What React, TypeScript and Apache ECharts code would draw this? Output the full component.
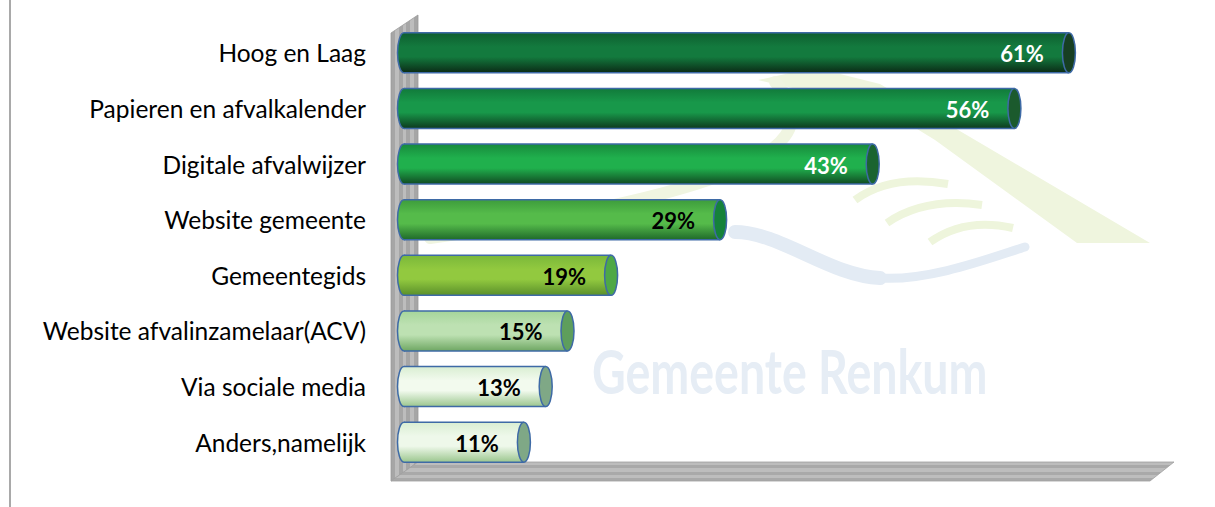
import React, { useEffect, useRef } from 'react';
import * as echarts from 'echarts';

const categories = [
  'Hoog en Laag',
  'Papieren en afvalkalender',
  'Digitale afvalwijzer',
  'Website gemeente',
  'Gemeentegids',
  'Website afvalinzamelaar(ACV)',
  'Via sociale media',
  'Anders,namelijk',
];
const values = [61, 56, 43, 29, 19, 15, 13, 11];

const bodyTop = ['#0e5e2f', '#117a3a', '#178a3c', '#3d9c3c', '#7ab83a', '#a5d59a', '#d9eed2', '#d9eed2'];
const bodyMid = ['#137a3e', '#18984a', '#20b04d', '#55bb4a', '#92c93f', '#bde1b2', '#f2faee', '#eef8ea'];
const bodyBot = ['#0b2a16', '#0d3a1e', '#114a22', '#1f6a2a', '#5a8f2a', '#6fa763', '#9bc68e', '#9bc68e'];
const capColors = ['#173f22', '#1b5a2d', '#1a6430', '#15823a', '#4ea846', '#5e9e5c', '#7fa886', '#7fa886'];
const labelColors = ['#ffffff', '#ffffff', '#ffffff', '#000000', '#000000', '#000000', '#000000', '#000000'];

const BORDER = '#3e6aa6';

function stripes(c1: string, c2: string, n: number) {
  const stops: { offset: number; color: string }[] = [];
  for (let i = 0; i < n; i++) {
    const a = i / n;
    const b = (i + 1) / n;
    const c = i % 2 === 0 ? c1 : c2;
    stops.push({ offset: a, color: c });
    stops.push({ offset: b, color: c });
  }
  return stops;
}

export default function App() {
  const ref = useRef<HTMLDivElement>(null);
  useEffect(() => {
    document.body.style.margin = '0';
    const chart = echarts.init(ref.current!, null, { renderer: 'svg' });
    const option: any = {
      animation: false,
      backgroundColor: '#ffffff',
      grid: { left: 404, right: 48, top: 25, bottom: 37 },
      xAxis: {
        type: 'value',
        min: 0,
        max: 70,
        show: false,
      },
      yAxis: {
        type: 'category',
        data: categories,
        inverse: true,
        axisLine: { show: false },
        axisTick: { show: false },
        axisLabel: {
          margin: 38,
          color: '#000000',
          fontFamily: 'Lato',
          fontSize: 24.5,
        },
      },
      graphic: [
        // outer frame line
        { type: 'line', z: 0, shape: { x1: 10, y1: 0, x2: 10, y2: 507 }, style: { stroke: '#8c8c8c', lineWidth: 1.5 } },
        // watermark logo
        {
          type: 'polygon', z: 0,
          shape: { points: [[758, 80], [790, 73], [840, 74], [880, 84], [1150, 243], [1077, 243], [935, 140], [870, 100], [810, 92]] },
          style: { fill: '#eff5de' },
        },
        {
          type: 'bezierCurve', z: 0,
          shape: { x1: 775, y1: 82, cpx1: 840, cpy1: 150, cpx2: 720, cpy2: 195, x2: 430, y2: 238 },
          style: { stroke: '#f0f5e1', lineWidth: 12, fill: 'none', lineCap: 'round' },
        },
        {
          type: 'bezierCurve', z: 0,
          shape: { x1: 855, y1: 200, cpx1: 890, cpy1: 174, x2: 948, y2: 184 },
          style: { stroke: '#eef5dc', lineWidth: 8, fill: 'none' },
        },
        {
          type: 'bezierCurve', z: 0,
          shape: { x1: 887, y1: 223, cpx1: 925, cpy1: 197, x2: 982, y2: 205 },
          style: { stroke: '#eef5dc', lineWidth: 8, fill: 'none' },
        },
        {
          type: 'bezierCurve', z: 0,
          shape: { x1: 930, y1: 242, cpx1: 965, cpy1: 217, x2: 1013, y2: 228 },
          style: { stroke: '#eef5dc', lineWidth: 8, fill: 'none' },
        },
        {
          type: 'bezierCurve', z: 0,
          shape: { x1: 735, y1: 232, cpx1: 780, cpy1: 232, cpx2: 830, cpy2: 276, x2: 880, y2: 278 },
          style: { stroke: '#e3ebf4', lineWidth: 14, fill: 'none', lineCap: 'round' },
        },
        {
          type: 'bezierCurve', z: 0,
          shape: { x1: 880, y1: 278, cpx1: 930, cpy1: 281, cpx2: 990, cpy2: 258, x2: 1025, y2: 247 },
          style: { stroke: '#e3ebf4', lineWidth: 9, fill: 'none', lineCap: 'round' },
        },
        {
          type: 'text', z: 0, x: 592, y: 370, scaleX: 0.75, originX: 0, originY: 0,
          style: { text: 'Gemeente Renkum', fill: '#e6edf5', font: 'bold 62px Lato', textVerticalAlign: 'middle', verticalAlign: 'middle' },
        },
        // wall
        {
          type: 'polygon', z: 1,
          shape: { points: [[391, 33], [418, 15], [418, 462], [391, 481]] },
          style: {
            fill: { type: 'linear', x: 0, y: 0, x2: 1, y2: 0, colorStops: stripes('#a6a6a6', '#bdbdbd', 7) },
            stroke: '#9a9a9a', lineWidth: 0.8,
          },
        },
        // floor
        {
          type: 'polygon', z: 1,
          shape: { points: [[391, 481], [418, 462], [1174, 462], [1150, 481]] },
          style: {
            fill: { type: 'linear', x: 0, y: 0, x2: 0, y2: 1, colorStops: stripes('#bdbdbd', '#a9a9a9', 6) },
            stroke: '#a0a0a0', lineWidth: 0.8,
          },
        },
      ],
      series: [
        {
          type: 'custom',
          z: 5,
          data: values.map((v, i) => [v, i]),
          encode: { x: 0, y: 1 },
          renderItem: (params: any, api: any) => {
            const i = params.dataIndex;
            const v = api.value(0);
            const cat = api.value(1);
            const p0 = api.coord([0, cat]);
            const p1 = api.coord([v, cat]);
            const band = api.size([0, 1])[1];
            const ry = (band * 0.72) / 2;
            const rx = 6.5;
            const cy = p0[1];
            const top = cy - ry;
            const bot = cy + ry;
            const x0 = p0[0];
            const x1 = p1[0];
            const grad = {
              type: 'linear', x: 0, y: 0, x2: 0, y2: 1,
              colorStops: [
                { offset: 0, color: bodyTop[i] },
                { offset: 0.35, color: bodyMid[i] },
                { offset: 0.6, color: bodyMid[i] },
                { offset: 1, color: bodyBot[i] },
              ],
            };
            return {
              type: 'group',
              children: [
                { type: 'ellipse', shape: { cx: x0, cy, rx, ry }, style: { fill: grad, stroke: BORDER, lineWidth: 1.5 } },
                { type: 'rect', shape: { x: x0, y: top, width: x1 - x0, height: bot - top }, style: { fill: grad } },
                { type: 'line', shape: { x1: x0, y1: top, x2: x1, y2: top }, style: { stroke: BORDER, lineWidth: 1.5 } },
                { type: 'line', shape: { x1: x0, y1: bot, x2: x1, y2: bot }, style: { stroke: BORDER, lineWidth: 1.5 } },
                { type: 'ellipse', shape: { cx: x1, cy, rx, ry }, style: { fill: capColors[i], stroke: BORDER, lineWidth: 1.5 } },
                {
                  type: 'text', x: x1 - 25, y: cy + 1,
                  style: {
                    text: v + '%', fill: labelColors[i], font: 'bold 22px Lato',
                    textAlign: 'right', align: 'right', textVerticalAlign: 'middle', verticalAlign: 'middle',
                  },
                },
              ],
            };
          },
        },
      ],
    };
    chart.setOption(option);
    return () => chart.dispose();
  }, []);
  return <div ref={ref} style={{ width: 1215, height: 507 }} />;
}
